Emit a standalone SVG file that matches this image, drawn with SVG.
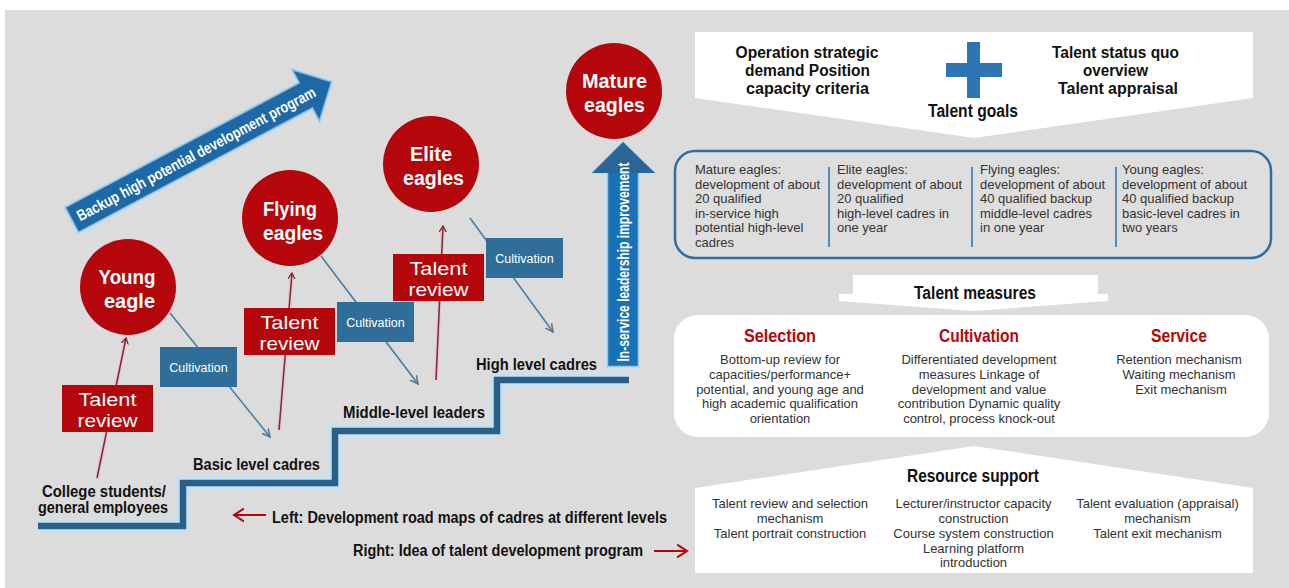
<svg xmlns="http://www.w3.org/2000/svg" width="1289" height="588" viewBox="0 0 1289 588">
<defs>
<style>
.b{font-family:"Liberation Sans Narrow","Liberation Sans",Arial,sans-serif;font-weight:bold}
.r{font-family:"Liberation Sans",Arial,sans-serif}
.w{fill:#ffffff}
.k{fill:#111111}
.g{fill:#333333;font-size:13px}
.red{fill:#b5070b}
.blu{fill:#2e6e99}
.mid{text-anchor:middle}
.circ{fill:#b5070b}
.ct{font-size:21px}
.hd{font-size:16px}
.tr{stroke:#7a2a36;stroke-width:1.5;fill:none}
.trg{stroke:#f0b8c0;stroke-width:4;fill:none;opacity:0.6}
.cu{stroke:#5b7487;stroke-width:1.5;fill:none}
.cug{stroke:#bfe0f2;stroke-width:4;fill:none;opacity:0.7}
.tv{font-size:19px}
</style>
<marker id="mr" markerWidth="8" markerHeight="8" refX="6" refY="4" orient="auto" markerUnits="userSpaceOnUse"><path d="M0,0.5 L6,4 L0,7.5" fill="none" stroke="#7a2a36" stroke-width="1.3"/></marker>
<marker id="mb" markerWidth="10" markerHeight="10" refX="8" refY="5" orient="auto" markerUnits="userSpaceOnUse"><path d="M0,1 L8,5 L0,9" fill="none" stroke="#5b7487" stroke-width="1.5"/></marker>
<marker id="mred" markerWidth="12" markerHeight="14" refX="10" refY="7" orient="auto" markerUnits="userSpaceOnUse"><path d="M0,0.5 L10,7 L0,13.5" fill="none" stroke="#b5070b" stroke-width="2"/></marker>
</defs>
<rect x="0" y="0" width="1289" height="588" fill="#ffffff"/>
<rect x="5" y="10" width="1284" height="578" fill="#dcdcdc"/>

<!-- Backup arrow -->
<g id="backup-arrow" transform="translate(71.5,220) rotate(-28)">
<polygon points="0,-14.5 265,-14.5 265,-30 295,0 265,30 265,14.5 0,14.5" fill="#1d68a6" stroke="#a9d6f2" stroke-width="2.5" stroke-opacity="0.7"/>
<text x="141" y="5.5" class="b w mid" font-size="15.5" textLength="268" lengthAdjust="spacingAndGlyphs">Backup high potential development program</text>
</g>

<!-- Staircase -->
<g id="staircase">
<path d="M38,526 H183 V483 H335 V431 H497 V380 H629" fill="none" stroke="#bfe3f7" stroke-width="13" opacity="0.8"/>
<path d="M38,526 H183 V483 H335 V431 H497 V380 H629" fill="none" stroke="#2a5f8a" stroke-width="6.5"/>
</g>

<!-- Vertical arrow -->
<g id="inservice-arrow">
<polygon points="607,367 607,173 592,173 623,142 655,173 639,173 639,367" fill="#1a72b6" stroke="#b5def5" stroke-width="2.5" stroke-opacity="0.8"/>
<polygon points="592,173 623,142 655,173" fill="#2a6598"/>
<text transform="translate(629,262) rotate(-90)" class="b w mid" font-size="16" textLength="199" lengthAdjust="spacingAndGlyphs">In-service leadership improvement</text>
</g>

<!-- Connectors -->
<g id="connectors">
<line x1="97" y1="478" x2="126" y2="338" class="trg"/>
<line x1="97" y1="478" x2="126" y2="338" class="tr" marker-end="url(#mr)"/>
<line x1="279" y1="430" x2="292" y2="273" class="trg"/>
<line x1="279" y1="430" x2="292" y2="273" class="tr" marker-end="url(#mr)"/>
<line x1="436" y1="380" x2="443" y2="226" class="trg"/>
<line x1="436" y1="380" x2="443" y2="226" class="tr" marker-end="url(#mr)"/>
<line x1="170" y1="313" x2="270" y2="437" class="cug"/>
<line x1="170" y1="313" x2="270" y2="437" class="cu" marker-end="url(#mb)"/>
<line x1="321" y1="256" x2="418" y2="384" class="cug"/>
<line x1="321" y1="256" x2="418" y2="384" class="cu" marker-end="url(#mb)"/>
<line x1="470" y1="218" x2="553" y2="332" class="cug"/>
<line x1="470" y1="218" x2="553" y2="332" class="cu" marker-end="url(#mb)"/>
<line x1="266" y1="515" x2="234" y2="515" stroke="#b5070b" stroke-width="2" marker-end="url(#mred)"/>
<line x1="654" y1="551" x2="687" y2="551" stroke="#b5070b" stroke-width="2" marker-end="url(#mred)"/>
</g>

<!-- Circles -->
<g id="young-eagle">
<circle cx="128" cy="287" r="48" class="circ"/>
<text x="127" y="284" class="b w mid ct" textLength="57" lengthAdjust="spacingAndGlyphs">Young</text>
<text x="129.5" y="308" class="b w mid ct" textLength="51" lengthAdjust="spacingAndGlyphs">eagle</text>
</g>
<g id="flying-eagles">
<circle cx="290" cy="218" r="48" class="circ"/>
<text x="290" y="216" class="b w mid ct" textLength="54" lengthAdjust="spacingAndGlyphs">Flying</text>
<text x="293" y="240" class="b w mid ct" textLength="60" lengthAdjust="spacingAndGlyphs">eagles</text>
</g>
<g id="elite-eagles">
<circle cx="431" cy="164" r="48" class="circ"/>
<text x="431" y="161" class="b w mid ct" textLength="42" lengthAdjust="spacingAndGlyphs">Elite</text>
<text x="433.5" y="185" class="b w mid ct" textLength="61" lengthAdjust="spacingAndGlyphs">eagles</text>
</g>
<g id="mature-eagles">
<circle cx="614" cy="91" r="48" class="circ"/>
<text x="614.5" y="88" class="b w mid ct" textLength="65" lengthAdjust="spacingAndGlyphs">Mature</text>
<text x="614.5" y="112" class="b w mid ct" textLength="61" lengthAdjust="spacingAndGlyphs">eagles</text>
</g>

<!-- Talent review boxes -->
<g id="talent-review-1">
<rect x="62" y="385" width="91" height="47" class="red"/>
<text x="107.5" y="406" class="r w mid tv" textLength="58" lengthAdjust="spacingAndGlyphs">Talent</text>
<text x="107.5" y="427.3" class="r w mid tv" textLength="60" lengthAdjust="spacingAndGlyphs">review</text>
</g>
<g id="talent-review-2">
<rect x="244" y="308" width="91" height="47" class="red"/>
<text x="289.5" y="329" class="r w mid tv" textLength="58" lengthAdjust="spacingAndGlyphs">Talent</text>
<text x="289.5" y="350.3" class="r w mid tv" textLength="60" lengthAdjust="spacingAndGlyphs">review</text>
</g>
<g id="talent-review-3">
<rect x="393" y="254" width="91" height="47" class="red"/>
<text x="438.5" y="275" class="r w mid tv" textLength="58" lengthAdjust="spacingAndGlyphs">Talent</text>
<text x="438.5" y="296.3" class="r w mid tv" textLength="60" lengthAdjust="spacingAndGlyphs">review</text>
</g>

<!-- Cultivation boxes -->
<g id="cultivation-1">
<rect x="160" y="347" width="77" height="40" class="blu"/>
<text x="198.5" y="372" class="r w mid" font-size="12.5">Cultivation</text>
</g>
<g id="cultivation-2">
<rect x="337" y="302" width="77" height="40" class="blu"/>
<text x="375.5" y="327" class="r w mid" font-size="12.5">Cultivation</text>
</g>
<g id="cultivation-3">
<rect x="486" y="238" width="77" height="40" class="blu"/>
<text x="524.5" y="263" class="r w mid" font-size="12.5">Cultivation</text>
</g>

<!-- Level labels -->
<g id="level-labels">
<text x="104" y="497" class="b k mid" font-size="16.5" textLength="124" lengthAdjust="spacingAndGlyphs">College students/</text>
<text x="103" y="513" class="b k mid" font-size="16.5" textLength="130" lengthAdjust="spacingAndGlyphs">general employees</text>
<text x="256.5" y="470" class="b k mid" font-size="16.5" textLength="127" lengthAdjust="spacingAndGlyphs">Basic level cadres</text>
<text x="414" y="418" class="b k mid" font-size="16.5" textLength="142" lengthAdjust="spacingAndGlyphs">Middle-level leaders</text>
<text x="536.5" y="370" class="b k mid" font-size="16.5" textLength="121" lengthAdjust="spacingAndGlyphs">High level cadres</text>
</g>

<g id="legend">
<text x="272" y="523" class="b k" font-size="16" textLength="395" lengthAdjust="spacingAndGlyphs">Left: Development road maps of cadres at different levels</text>
<text x="353" y="556" class="b k" font-size="16" textLength="290" lengthAdjust="spacingAndGlyphs">Right: Idea of talent development program</text>
</g>

<!-- Talent goals -->
<g id="talent-goals">
<polygon points="695,32 1253,32 1253,98 974,138 695,98" fill="#ffffff"/>
<rect x="967" y="42" width="13" height="56" fill="#2e75b6"/>
<rect x="946" y="63" width="56" height="14" fill="#2e75b6"/>
<text x="807" y="57.5" class="b k mid hd" textLength="143" lengthAdjust="spacingAndGlyphs">Operation strategic</text>
<text x="807.5" y="75.5" class="b k mid hd" textLength="125" lengthAdjust="spacingAndGlyphs">demand Position</text>
<text x="807.5" y="93.5" class="b k mid hd" textLength="123" lengthAdjust="spacingAndGlyphs">capacity criteria</text>
<text x="1115.5" y="57.5" class="b k mid hd" textLength="127" lengthAdjust="spacingAndGlyphs">Talent status quo</text>
<text x="1115.5" y="75.5" class="b k mid hd" textLength="65" lengthAdjust="spacingAndGlyphs">overview</text>
<text x="1118" y="93.5" class="b k mid hd" textLength="120" lengthAdjust="spacingAndGlyphs">Talent appraisal</text>
<text x="973" y="117" class="b k mid" font-size="17.5" textLength="90" lengthAdjust="spacingAndGlyphs">Talent goals</text>
</g>

<!-- Targets -->
<g id="targets">
<rect x="675" y="151" width="596" height="107" rx="20" ry="20" fill="#dedede" stroke="#2c6ea3" stroke-width="2.5"/>
<line x1="829" y1="167" x2="829" y2="247" stroke="#2c6ea3" stroke-width="1.5"/>
<line x1="972" y1="167" x2="972" y2="247" stroke="#2c6ea3" stroke-width="1.5"/>
<line x1="1116" y1="167" x2="1116" y2="247" stroke="#2c6ea3" stroke-width="1.5"/>
<text class="r g"><tspan x="695" y="174">Mature eagles:</tspan><tspan x="695" y="188.6">development of about</tspan><tspan x="695" y="203.2">20 qualified</tspan><tspan x="695" y="217.8">in-service high</tspan><tspan x="695" y="232.4">potential high-level</tspan><tspan x="695" y="247">cadres</tspan></text>
<text class="r g"><tspan x="837" y="174">Elite eagles:</tspan><tspan x="837" y="188.6">development of about</tspan><tspan x="837" y="203.2">20 qualified</tspan><tspan x="837" y="217.8">high-level cadres in</tspan><tspan x="837" y="232.4">one year</tspan></text>
<text class="r g"><tspan x="980" y="174">Flying eagles:</tspan><tspan x="980" y="188.6">development of about</tspan><tspan x="980" y="203.2">40 qualified backup</tspan><tspan x="980" y="217.8">middle-level cadres</tspan><tspan x="980" y="232.4">in one year</tspan></text>
<text class="r g"><tspan x="1122" y="174">Young eagles:</tspan><tspan x="1122" y="188.6">development of about</tspan><tspan x="1122" y="203.2">40 qualified backup</tspan><tspan x="1122" y="217.8">basic-level cadres in</tspan><tspan x="1122" y="232.4">two years</tspan></text>
</g>

<!-- Talent measures -->
<g id="talent-measures">
<polygon points="853,275 1098,275 1098,294 1108,294 1108,301 973,311 839,301 839,294 853,294" fill="#ffffff"/>
<text x="975" y="299" class="b k mid" font-size="17.5" textLength="122" lengthAdjust="spacingAndGlyphs">Talent measures</text>
<rect x="674" y="315" width="595" height="122" rx="24" ry="24" fill="#ffffff"/>
<text x="780" y="342" class="b red mid" font-size="18.5" textLength="72" lengthAdjust="spacingAndGlyphs">Selection</text>
<text x="979" y="342" class="b red mid" font-size="18.5" textLength="80" lengthAdjust="spacingAndGlyphs">Cultivation</text>
<text x="1179" y="342" class="b red mid" font-size="18.5" textLength="56" lengthAdjust="spacingAndGlyphs">Service</text>
<text class="r g mid"><tspan x="780" y="364">Bottom-up review for</tspan><tspan x="780" y="378.8">capacities/performance+</tspan><tspan x="780" y="393.6">potential, and young age and</tspan><tspan x="780" y="408.4">high academic qualification</tspan><tspan x="780" y="423">orientation</tspan></text>
<text class="r g mid"><tspan x="979" y="364">Differentiated development</tspan><tspan x="979" y="378.8">measures Linkage of</tspan><tspan x="979" y="393.6">development and value</tspan><tspan x="979" y="408.4">contribution Dynamic quality</tspan><tspan x="979" y="423">control, process knock-out</tspan></text>
<text class="r g mid"><tspan x="1179" y="364">Retention mechanism</tspan><tspan x="1179" y="378.8">Waiting mechanism</tspan><tspan x="1181" y="393.6">Exit mechanism</tspan></text>
</g>

<!-- Resource support -->
<g id="resource-support">
<polygon points="695,488 974,446 1253,488 1253,573 695,573" fill="#ffffff"/>
<text x="973" y="482" class="b k mid" font-size="17.5" textLength="132" lengthAdjust="spacingAndGlyphs">Resource support</text>
<text class="r g mid"><tspan x="790" y="508">Talent review and selection</tspan><tspan x="790" y="523">mechanism</tspan><tspan x="790" y="538">Talent portrait construction</tspan></text>
<text class="r g mid"><tspan x="973.5" y="508">Lecturer/instructor capacity</tspan><tspan x="973.5" y="523">construction</tspan><tspan x="973.5" y="538">Course system construction</tspan><tspan x="973.5" y="553">Learning platform</tspan><tspan x="973.5" y="567">introduction</tspan></text>
<text class="r g mid"><tspan x="1157.5" y="508">Talent evaluation (appraisal)</tspan><tspan x="1157.5" y="523">mechanism</tspan><tspan x="1157.5" y="538">Talent exit mechanism</tspan></text>
</g>
</svg>
